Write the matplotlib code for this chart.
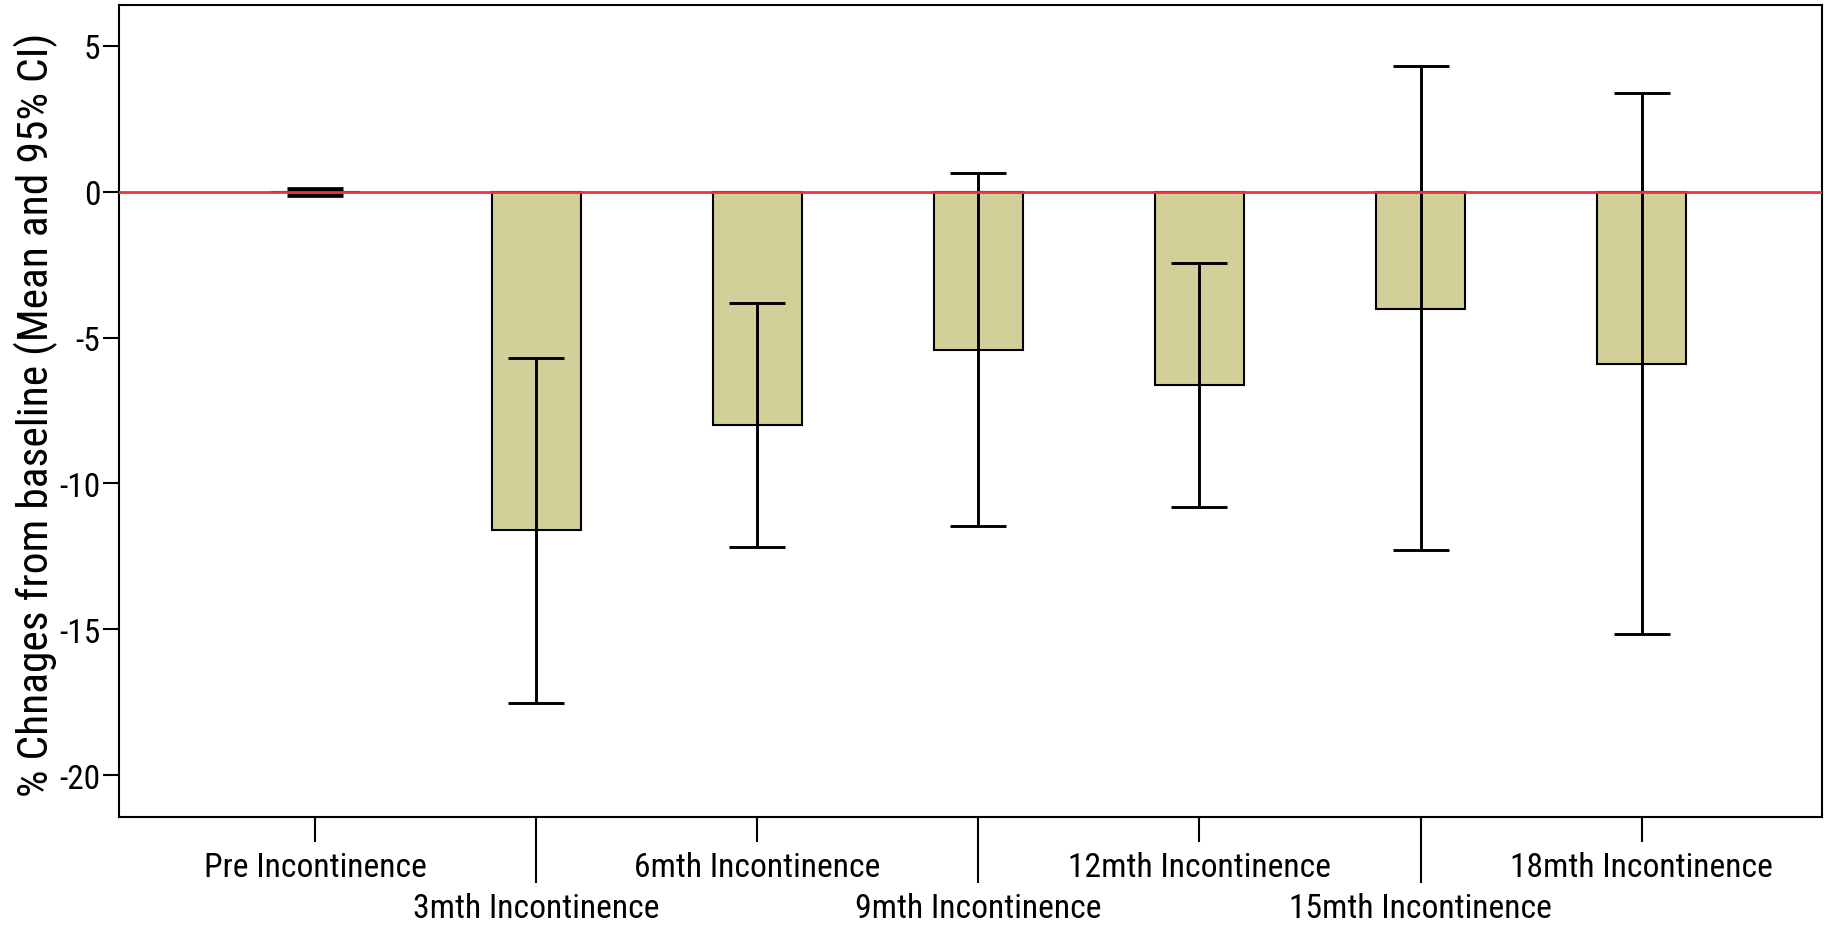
from matplotlib import pyplot as plt
import matplotlib.font_manager as fm
import numpy as np

categories = ["Pre Incontinence", "3mth Incontinence", "6mth Incontinence",
              "9mth Incontinence", "12mth Incontinence", "15mth Incontinence",
              "18mth Incontinence"]
means = [0.0, -11.60, -7.99, -5.42, -6.62, -4.01, -5.90]
ci_low = [-0.10, -17.52, -12.18, -11.45, -10.80, -12.29, -15.15]
ci_high = [0.10, -5.70, -3.82, 0.63, -2.45, 4.31, 3.37]
y_ticks = [5, 0, -5, -10, -15, -20]

# look for a narrow sans face, the original uses something like Arial Narrow
fonts = fm.fontManager.ttflist
names = {f.name for f in fonts}
family, stretch, scale = None, "normal", 1.0
for cand in ["Liberation Sans Narrow", "Arial Narrow", "Roboto Condensed",
             "Open Sans Condensed", "Noto Sans Condensed", "DejaVu Sans Condensed",
             "Noto Sans Display Condensed"]:
    if cand in names:
        family = cand
        break
if family is None:
    for f in fonts:
        if f.stretch in ("condensed", "semi-condensed", "extra-condensed") and \
                f.name in ("Noto Sans", "DejaVu Sans", "Open Sans", "Roboto", "Inter", "Lato"):
            family, stretch = f.name, f.stretch
            break
if family is None:
    family, scale = "Liberation Sans", 0.84

plt.rcParams['font.family'] = [family, 'DejaVu Sans']
plt.rcParams['font.stretch'] = stretch

fig = plt.figure(figsize=(18.39, 9.28), dpi=100)
ax = fig.add_axes([0.0647, 0.1185, 0.9261, 0.875])

x = np.arange(len(categories))
means = np.array(means)
err = np.array([means - np.array(ci_low), np.array(ci_high) - means])

ax.bar(x, means, width=0.403, color="#d3cf98", edgecolor="black", linewidth=1.5, zorder=2)
ax.errorbar(x[1:], means[1:], yerr=err[:, 1:], fmt="none", ecolor="black",
            elinewidth=2.1, capsize=20, capthick=2.1, zorder=3)
# baseline CI is tiny, caps merge into a block
ax.errorbar(x[:1], means[:1], yerr=err[:, :1], fmt="none", ecolor="black",
            elinewidth=2.1, capsize=20, capthick=3.4, zorder=3)
ax.axhline(0, color="#ee3340", linewidth=2.0, zorder=4)

ax.set_xlim(-0.889, 6.817)
ax.set_ylim(-21.44, 6.40)
ax.set_yticks(y_ticks)
ax.set_yticklabels([str(v) for v in y_ticks], fontsize=24 * scale)
ax.tick_params(axis="y", length=11.5, width=1.5, pad=2)

# staggered category labels: even ones short ticks, odd ones long ticks
ax.set_xticks(x[::2])
ax.set_xticklabels(categories[::2], fontsize=24.2 * scale)
ax.set_xticks(x[1::2], minor=True)
ax.set_xticklabels(categories[1::2], minor=True, fontsize=24.2 * scale)
ax.tick_params(axis="x", which="major", length=18, width=1.5, pad=6.5)
ax.tick_params(axis="x", which="minor", length=47.5, width=1.5, pad=6.5)

ax.set_ylabel("% Chnages from baseline (Mean and 95% CI)", fontsize=31.3 * scale)
ax.yaxis.set_label_coords(-0.036, 0.497)
for s in ax.spines.values():
    s.set_linewidth(1.5)

fig.savefig("out.png", dpi=100)
